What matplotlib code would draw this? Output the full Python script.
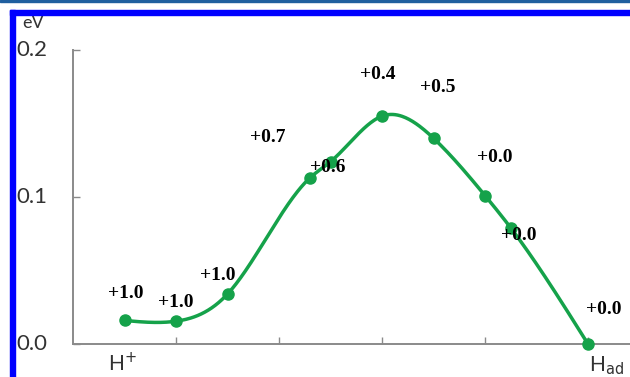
import numpy as np
import matplotlib.pyplot as plt
from matplotlib.patches import Rectangle

# reaction coordinate and energy (eV) along the path
paso = [0.5, 1.0, 1.5, 2.3, 2.5, 3.0, 3.5, 4.0, 4.25, 5.0]
energia = [0.016, 0.0155, 0.034, 0.113, 0.124, 0.155, 0.140, 0.101, 0.079, 0.0]

# charge labels and where they sit
cargas = ['+1.0', '+1.0', '+1.0', '+0.7', '+0.6', '+0.4', '+0.5', '+0.0', '+0.0', '+0.0']
pos_x = [0.51, 1.0, 1.41, 1.89, 2.47, 2.96, 3.54, 4.09, 4.33, 5.15]
pos_y = [0.0346, 0.0285, 0.0469, 0.1402, 0.1198, 0.1834, 0.1746, 0.1266, 0.0735, 0.0238]

yticks = [0.0, 0.1, 0.2]
ytick_labels = ['0.0', '0.1', '0.2']


def spline_natural(x, y, n=400):
    x = np.asarray(x, float); y = np.asarray(y, float)
    m = len(x)
    h = np.diff(x)
    A = np.zeros((m, m)); r = np.zeros(m)
    A[0, 0] = 1.0; A[-1, -1] = 1.0
    for i in range(1, m - 1):
        A[i, i-1] = h[i-1]
        A[i, i] = 2.0*(h[i-1] + h[i])
        A[i, i+1] = h[i]
        r[i] = 3.0*((y[i+1] - y[i])/h[i] - (y[i] - y[i-1])/h[i-1])
    c = np.linalg.solve(A, r)
    xs = np.linspace(x[0], x[-1], n)
    ys = np.zeros(n)
    for k, t in enumerate(xs):
        i = min(np.searchsorted(x, t, side='right') - 1, m - 2)
        dx = t - x[i]
        b = (y[i+1] - y[i])/h[i] - h[i]*(2*c[i] + c[i+1])/3.0
        d = (c[i+1] - c[i])/(3.0*h[i])
        ys[k] = y[i] + b*dx + c[i]*dx**2 + d*dx**3
    return xs, ys


fig = plt.figure(figsize=(6.3, 3.77), dpi=100)
ax = fig.add_axes([73/630, 1 - 344/377, 1 - 73/630, 294/377])

xs, ys = spline_natural(paso, energia)
verde = '#15a24a'
ax.plot(xs, ys, color=verde, lw=2.5, clip_on=False, zorder=3)
ax.plot(paso, energia, 'o', color=verde, ms=8, clip_on=False, zorder=4)

for t, px, py in zip(cargas, pos_x, pos_y):
    ax.text(px, py, t, ha='center', va='center', fontsize=14,
            fontweight='bold', family='Liberation Serif', zorder=5)

ax.set_xlim(0, (630 - 73)/103)
ax.set_ylim(0, 0.2)
for s in ['top', 'right']:
    ax.spines[s].set_visible(False)
for s in ['left', 'bottom']:
    ax.spines[s].set_color('#8a8a8a')
    ax.spines[s].set_linewidth(1.4)

ax.set_xticks([1, 2, 3, 4, 5])
ax.set_xticklabels([])
ax.set_yticks(yticks)
ax.set_yticklabels([])
ax.tick_params(direction='in', length=5, width=1, color='#8a8a8a')

# y labels sit far to the left
for v, lab in zip(yticks, ytick_labels):
    fig.text(16/630, 1 - (344 - v/0.2*294)/377, lab, ha='left', va='center',
             fontsize=16, family='Lato', color='#333333')
fig.text(22/630, 1 - 23/377, 'eV', ha='left', va='center', fontsize=13,
         family='Lato', color='#333333')

fig.text(122/630, 1 - 363/377, 'H$^{+}$', ha='center', va='center',
         fontsize=15, family='Lato', color='#333333')
fig.text(606/630, 1 - 366/377, 'H$_{\\mathrm{ad}}$', ha='center', va='center',
         fontsize=15, family='Lato', color='#333333')

# blue frame on top and left
fig.patches.append(Rectangle((10/630, 0), 5/630, 1 - 10/377, transform=fig.transFigure,
                             color='#0000ff', zorder=10))
fig.patches.append(Rectangle((10/630, 1 - 15/377), 1, 5/377, transform=fig.transFigure,
                             color='#0000ff', zorder=10))
fig.patches.append(Rectangle((0, 1 - 2/377), 1, 2/377, transform=fig.transFigure,
                             color='#1f5f9f', zorder=10))

fig.savefig('out.png', dpi=100)
